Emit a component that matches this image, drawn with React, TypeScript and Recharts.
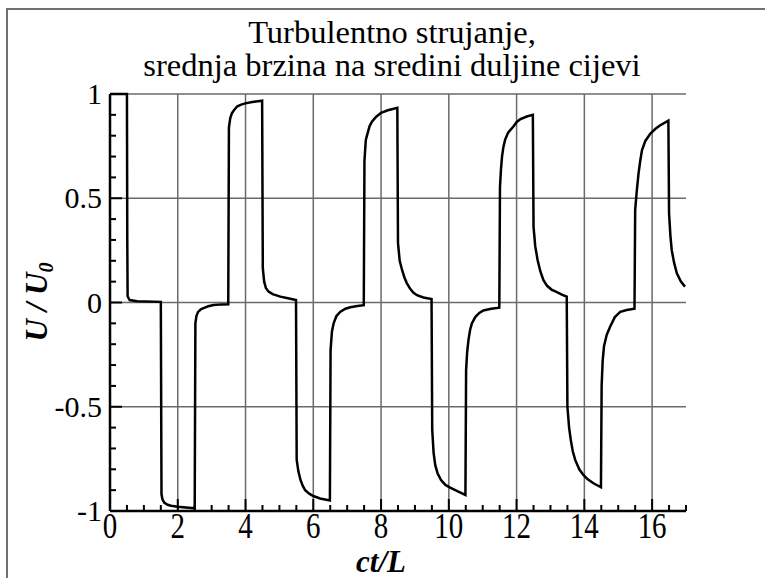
import React from 'react';
import { LineChart, Line, XAxis, YAxis, ReferenceLine } from 'recharts';

// ct/L values
const ctL = [
  0, 0.5, 0.51, 0.52, 0.58, 0.8, 1.5,
  1.52, 1.55, 1.6, 1.7, 1.8, 2.0, 2.5,
  2.52, 2.55, 2.6, 2.68, 2.76, 2.9, 3.06, 3.3, 3.49,
  3.51, 3.55, 3.6, 3.67, 3.75, 3.85, 3.99, 4.2, 4.49,
  4.51, 4.55, 4.6, 4.68, 4.8, 5.03, 5.25, 5.49,
  5.51, 5.56, 5.62, 5.69, 5.76, 5.88, 6.0, 6.2, 6.49,
  6.51, 6.55, 6.6, 6.68, 6.8, 6.95, 7.09, 7.3, 7.49,
  7.51, 7.55, 7.6, 7.66, 7.73, 7.85, 8.0, 8.2, 8.48,
  8.5, 8.55, 8.62, 8.69, 8.76, 8.85, 8.95, 9.06, 9.25, 9.49,
  9.51, 9.55, 9.6, 9.67, 9.77, 9.9, 10.04, 10.25, 10.49,
  10.51, 10.54, 10.58, 10.63, 10.68, 10.78, 10.9, 11.02, 11.25, 11.49,
  11.51, 11.54, 11.57, 11.61, 11.66, 11.75, 11.9, 12.0, 12.1, 12.3, 12.48,
  12.5, 12.55, 12.62, 12.7, 12.79, 12.9, 13.03, 13.19, 13.35, 13.48,
  13.5, 13.55, 13.6, 13.66, 13.73, 13.85, 13.97, 14.1, 14.27, 14.49,
  14.51, 14.54, 14.58, 14.66, 14.76, 14.9, 15.06, 15.25, 15.48,
  15.5, 15.55, 15.6, 15.65, 15.7, 15.8, 15.95, 16.1, 16.24, 16.48,
  16.5, 16.54, 16.58, 16.65, 16.73, 16.85, 16.97,
];

// U / U0 values
const uU0 = [
  1, 1, 0.3, 0.03, 0.012, 0.006, 0.003,
  -0.92, -0.945, -0.96, -0.97, -0.975, -0.98, -0.987,
  -0.1, -0.065, -0.045, -0.033, -0.027, -0.018, -0.012, -0.009, -0.008,
  0.84, 0.885, 0.908, 0.925, 0.94, 0.948, 0.955, 0.962, 0.968,
  0.165, 0.1, 0.07, 0.052, 0.04, 0.028, 0.02, 0.012,
  -0.755, -0.81, -0.85, -0.88, -0.9, -0.917, -0.928, -0.94, -0.95,
  -0.228, -0.14, -0.1, -0.066, -0.044, -0.03, -0.023, -0.017, -0.013,
  0.68, 0.78, 0.81, 0.845, 0.867, 0.89, 0.91, 0.922, 0.934,
  0.285, 0.2, 0.156, 0.12, 0.093, 0.068, 0.048, 0.035, 0.024, 0.017,
  -0.61, -0.72, -0.78, -0.82, -0.852, -0.875, -0.888, -0.905, -0.923,
  -0.324, -0.24, -0.18, -0.13, -0.1, -0.07, -0.05, -0.038, -0.03, -0.025,
  0.555, 0.64, 0.7, 0.745, 0.78, 0.815, 0.843, 0.865, 0.878, 0.892, 0.9,
  0.364, 0.27, 0.204, 0.15, 0.108, 0.08, 0.062, 0.05, 0.037, 0.028,
  -0.5, -0.6, -0.66, -0.715, -0.755, -0.8, -0.827, -0.848, -0.867, -0.886,
  -0.4, -0.28, -0.21, -0.155, -0.116, -0.07, -0.045, -0.036, -0.03,
  0.444, 0.54, 0.62, 0.68, 0.73, 0.775, 0.81, 0.833, 0.85, 0.872,
  0.428, 0.32, 0.25, 0.19, 0.14, 0.1, 0.076,
];

const xTicks = [
  0, 0.5, 1, 1.5, 2, 2.5, 3, 3.5, 4, 4.5, 5, 5.5, 6, 6.5, 7, 7.5, 8, 8.5,
  9, 9.5, 10, 10.5, 11, 11.5, 12, 12.5, 13, 13.5, 14, 14.5, 15, 15.5, 16, 16.5, 17,
];
const xMajor = [0, 2, 4, 6, 8, 10, 12, 14, 16];
const yTicks = [
  -1, -0.9, -0.8, -0.7, -0.6, -0.5, -0.4, -0.3, -0.2, -0.1, 0,
  0.1, 0.2, 0.3, 0.4, 0.5, 0.6, 0.7, 0.8, 0.9, 1,
];
const yMajor = [-1, -0.5, 0, 0.5, 1];
const xGrid = [2, 4, 6, 8, 10, 12, 14, 16];
const yGrid = [-0.5, 0, 0.5, 1];

const data = ctL.map((x, i) => ({ x, u: uU0[i] }));

const FONT = "'Liberation Serif', 'Times New Roman', serif";
const isIn = (arr: number[], v: number) => arr.some((a) => Math.abs(a - v) < 1e-6);

const XTick = (props: any) => {
  const { x, y, payload } = props;
  const v = payload.value;
  const major = isIn(xMajor, v);
  return (
    <g>
      <line x1={x} x2={x} y1={y} y2={y - (major ? 12 : 6)} stroke="#000" strokeWidth={2} />
      {major && (
        <text
          transform={`translate(${x},${y + 27}) scale(1,1.22)`}
          textAnchor="middle" fontFamily={FONT} fontSize={29} fill="#000"
        >
          {String(v)}
        </text>
      )}
    </g>
  );
};

const YTick = (props: any) => {
  const { x, y, payload } = props;
  const v = payload.value;
  const major = isIn(yMajor, v);
  return (
    <g>
      <line x1={x} x2={x + (major ? 12 : 6)} y1={y} y2={y} stroke="#000" strokeWidth={2} />
      {major && (
        <text x={x - 8} y={y + 10} textAnchor="end" fontFamily={FONT} fontSize={30} fill="#000">
          {String(v)}
        </text>
      )}
    </g>
  );
};

export default function App() {
  return (
    <div style={{ position: 'absolute', left: 0, top: 0, width: 765, height: 578, background: '#fff', overflow: 'hidden' }}>
      <div
        style={{
          position: 'absolute', left: 6, top: 8, width: 800, height: 640,
          borderLeft: '2px solid #707070', borderTop: '2px solid #707070',
        }}
      />
      <div
        style={{
          position: 'absolute', left: 0, top: 16, width: 784, textAlign: 'center',
          fontFamily: FONT, fontSize: 32.5, lineHeight: '33px', color: '#000',
        }}
      >
        <div>Turbulentno strujanje,</div>
        <div>srednja brzina na sredini duljine cijevi</div>
      </div>
      <div style={{ position: 'absolute', left: 0, top: 0 }}>
        <LineChart width={765} height={578} data={data} margin={{ top: 94, right: 79, bottom: 37, left: 50 }}>
          {xGrid.map((v) => (
            <ReferenceLine key={'gx' + v} x={v} stroke="#6a6a6a" strokeWidth={1.5} />
          ))}
          {yGrid.map((v) => (
            <ReferenceLine key={'gy' + v} y={v} stroke="#6a6a6a" strokeWidth={1.5} />
          ))}
          <XAxis
            dataKey="x" type="number" domain={[0, 17]} ticks={xTicks} interval={0}
            height={30} tickSize={0} tickMargin={0} tickLine={false}
            axisLine={{ stroke: '#000', strokeWidth: 2.5 }} tick={(p: any) => <XTick {...p} />}
          />
          <YAxis
            type="number" domain={[-1, 1]} ticks={yTicks} interval={0}
            width={60} tickSize={0} tickMargin={0} tickLine={false}
            axisLine={{ stroke: '#000', strokeWidth: 2.5 }} tick={(p: any) => <YTick {...p} />}
          />
          <Line
            dataKey="u" type="linear" stroke="#000" strokeWidth={2.5} dot={false}
            isAnimationActive={false}
          />
        </LineChart>
      </div>
      <div
        style={{
          position: 'absolute', left: 281, top: 547, width: 200, textAlign: 'center',
          fontFamily: FONT, fontSize: 31, lineHeight: '30px', fontWeight: 'bold', fontStyle: 'italic',
        }}
      >
        ct/L
      </div>
      <div
        style={{
          position: 'absolute', left: 37 - 100, top: 302 - 18, width: 200, height: 36, textAlign: 'center',
          fontFamily: FONT, fontSize: 31, lineHeight: '36px', fontWeight: 'bold', fontStyle: 'italic',
          transform: 'rotate(-90deg)',
        }}
      >
        U / U<sub style={{ fontSize: 20, verticalAlign: 'baseline', position: 'relative', top: 6 }}>0</sub>
      </div>
    </div>
  );
}
